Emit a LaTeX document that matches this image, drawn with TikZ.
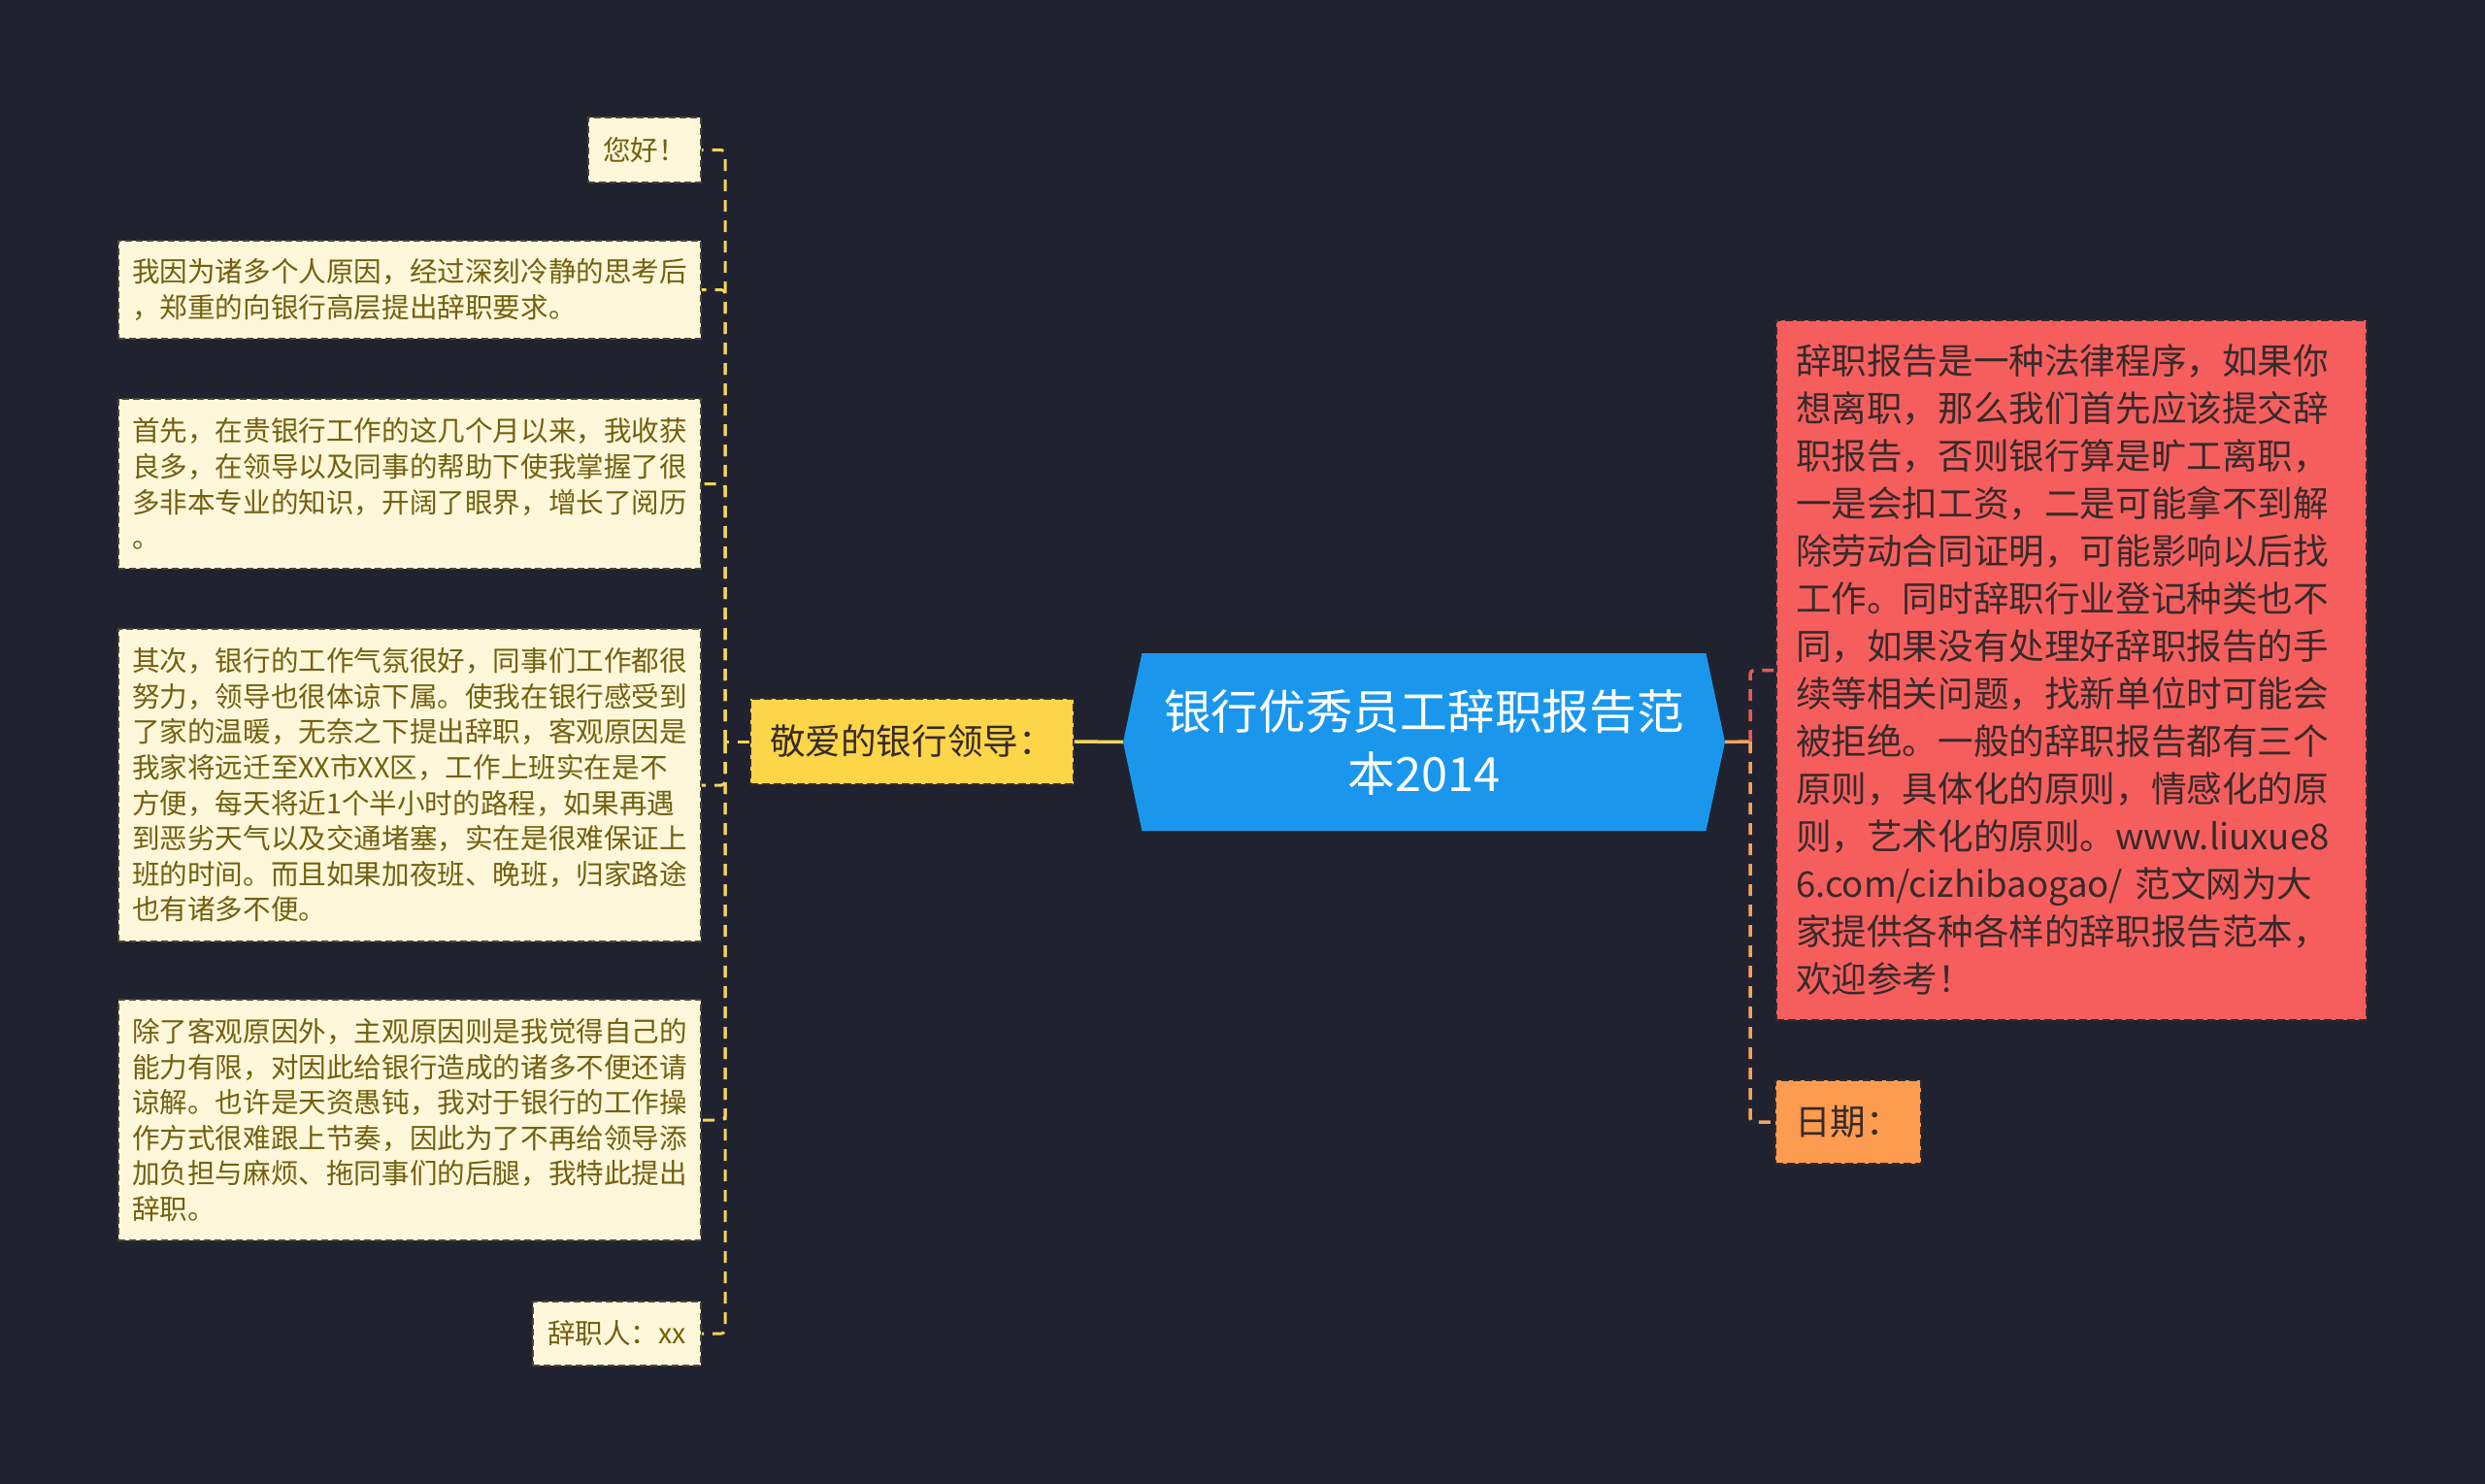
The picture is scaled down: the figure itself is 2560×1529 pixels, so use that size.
\documentclass[tikz,border=0pt]{standalone}
\usepackage{fontspec}
\newfontfamily\cjk{Noto Sans CJK SC}
\usetikzlibrary{shapes.symbols,calc}
\definecolor{bg}{HTML}{20232F}
\definecolor{cream}{HTML}{FEF7DA}
\definecolor{leaftext}{HTML}{73600F}
\definecolor{leafborder}{HTML}{4A4636}
\definecolor{ylw}{HTML}{F6D55A}
\definecolor{leadfill}{HTML}{FDD548}
\definecolor{ctrblue}{HTML}{1A97EC}
\definecolor{redfill}{HTML}{F65E5E}
\definecolor{redline}{HTML}{E45A5A}
\definecolor{orgfill}{HTML}{FD9B4F}
\definecolor{orgline}{HTML}{F6A35E}
\definecolor{darktext}{HTML}{362A2A}
\begin{document}
\begin{tikzpicture}[x=1pt,y=-1pt,
  leaf/.style={draw=leafborder, line width=1.8pt, dash pattern=on 7pt off 4pt,
    fill=cream, text=leaftext, font=\cjk\fontsize{28.6pt}{36.6pt}\selectfont,
    align=left, inner xsep=13pt, inner ysep=0pt},
  colbox/.style={draw=darktext, line width=1.8pt, dash pattern=on 8pt off 4pt,
    text=darktext, font=\cjk\fontsize{36.6pt}{49pt}\selectfont,
    align=left, inner xsep=20pt, inner ysep=0pt},
  ylink/.style={draw=ylw, line width=3pt, dash pattern=on 12pt off 9pt, rounded corners=4pt},
  rlink/.style={draw=redline, line width=3.5pt, dash pattern=on 12pt off 9pt, rounded corners=4pt},
  olink/.style={draw=orgline, line width=3.5pt, dash pattern=on 12pt off 9pt, rounded corners=4pt}
]
\fill[bg] (0,0) rectangle (2560,1529);
\useasboundingbox (0,0) rectangle (2560,1529);

% centre
\node[signal, signal to=west and east, signal pointer angle=156,
  fill=ctrblue, text=white, font=\cjk\fontsize{48.7pt}{64pt}\selectfont,
  align=center, minimum width=620pt, minimum height=183pt, inner sep=0pt]
  (c) at (1467,764.5) {银行优秀员工辞职报告范\\本2014};

% left lead
\node[colbox, fill=leadfill, text=darktext, minimum width=333pt, minimum height=88pt, align=center]
  (lead) at (939.5,764) {敬爱的银行领导：};

% left leaves
\node[leaf, minimum width=116pt, minimum height=67pt] (b1) at (664,154.5) {您好！};
\node[leaf, minimum width=600pt, minimum height=101pt] (b2) at (422,298.5)
  {我因为诸多个人原因，经过深刻冷静的思考后\\，郑重的向银行高层提出辞职要求。};
\node[leaf, minimum width=600pt, minimum height=175pt] (b3) at (422,498.5)
  {首先，在贵银行工作的这几个月以来，我收获\\良多，在领导以及同事的帮助下使我掌握了很\\多非本专业的知识，开阔了眼界，增长了阅历\\。};
\node[leaf, minimum width=600pt, minimum height=322pt] (b4) at (422,809)
  {其次，银行的工作气氛很好，同事们工作都很\\努力，领导也很体谅下属。使我在银行感受到\\了家的温暖，无奈之下提出辞职，客观原因是\\我家将远迁至XX市XX区，工作上班实在是不\\方便，每天将近1个半小时的路程，如果再遇\\到恶劣天气以及交通堵塞，实在是很难保证上\\班的时间。而且如果加夜班、晚班，归家路途\\也有诸多不便。};
\node[leaf, minimum width=600pt, minimum height=248pt] (b5) at (422,1154)
  {除了客观原因外，主观原因则是我觉得自己的\\能力有限，对因此给银行造成的诸多不便还请\\谅解。也许是天资愚钝，我对于银行的工作操\\作方式很难跟上节奏，因此为了不再给领导添\\加负担与麻烦、拖同事们的后腿，我特此提出\\辞职。};
\node[leaf, minimum width=173pt, minimum height=66pt] (b6) at (635.5,1374) {辞职人：xx};

% right
\node[colbox, fill=redfill, text width=568pt, minimum height=721pt] (red) at (2134,690.5)
  {辞职报告是一种法律程序，如果你\\想离职，那么我们首先应该提交辞\\职报告，否则银行算是旷工离职，\\一是会扣工资，二是可能拿不到解\\除劳动合同证明，可能影响以后找\\工作。同时辞职行业登记种类也不\\同，如果没有处理好辞职报告的手\\续等相关问题，找新单位时可能会\\被拒绝。一般的辞职报告都有三个\\原则，具体化的原则，情感化的原\\则，艺术化的原则。www.liuxue8\\6.com/cizhibaogao/ 范文网为大\\家提供各种各样的辞职报告范本，\\欢迎参考！};
\node[colbox, fill=orgfill, minimum width=148pt, minimum height=86pt, align=center]
  (date) at (1904,1156) {日期：};

% junctions
\coordinate (jl) at (747,764);
\coordinate (jr) at (1803,764);

% connectors left
\draw[draw=ylw, line width=3.5pt] (lead.east) -- (c.west);
\draw[ylink] (lead.west) -- (jl);
\foreach \b in {b1,b2,b3,b4,b5,b6} { \draw[ylink] (jl) |- (\b.east); }

% connectors right
\draw[draw=orgline, line width=3.5pt] (c.east) -- (jr);
\draw[rlink] (jr) |- (red.west);
\draw[olink] (jr) |- (date.west);
\end{tikzpicture}
\end{document}
